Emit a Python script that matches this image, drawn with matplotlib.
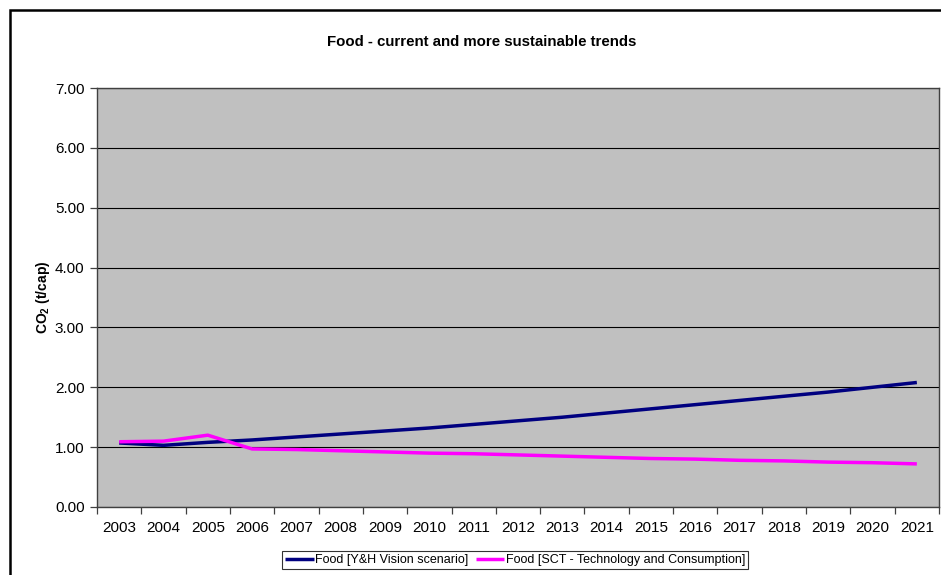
import matplotlib.pyplot as plt
from matplotlib.patches import Rectangle

plt.rcParams['font.family'] = ['Liberation Sans', 'DejaVu Sans']
plt.rcParams['mathtext.fontset'] = 'custom'
plt.rcParams['mathtext.rm'] = 'Liberation Sans'
plt.rcParams['mathtext.bf'] = 'Liberation Sans:bold'

years = [str(y) for y in range(2003, 2022)]
vision = [1.07, 1.03, 1.08, 1.12, 1.17, 1.22, 1.27, 1.32, 1.38, 1.44,
          1.50, 1.57, 1.64, 1.71, 1.78, 1.85, 1.92, 2.00, 2.08]
sct = [1.09, 1.10, 1.20, 0.97, 0.96, 0.94, 0.92, 0.90, 0.89, 0.87,
       0.85, 0.83, 0.81, 0.80, 0.78, 0.77, 0.75, 0.74, 0.72]

fig = plt.figure(figsize=(9.41, 5.75), dpi=100)
ax = fig.add_axes([97 / 941, 1 - 507 / 575, 842 / 941, 419 / 575])
ax.set_facecolor('#C0C0C0')

x = range(len(years))
l1, = ax.plot(x, vision, color='#000080', lw=2.5, solid_capstyle='butt',
              label='Food [Y&H Vision scenario]', zorder=3)
l2, = ax.plot(x, sct, color='#FF00FF', lw=2.5, solid_capstyle='butt',
              label='Food [SCT - Technology and Consumption]', zorder=3)

ax.set_xlim(-0.5, len(years) - 0.5)
ax.set_ylim(0, 7)
ax.set_yticks(range(8))
ax.set_yticklabels(['%.2f' % v for v in range(8)])
ax.yaxis.grid(True, color='black', lw=0.8)
ax.set_axisbelow(True)

# category labels centred, tick marks on the category boundaries
ax.set_xticks(list(x))
ax.set_xticklabels(years)
ax.set_xticks([i - 0.5 for i in range(len(years) + 1)], minor=True)
ax.tick_params(axis='x', which='major', length=0, pad=10, labelsize=11)
ax.tick_params(axis='x', which='minor', length=5, width=0.9, color='#404040')
ax.tick_params(axis='y', length=5, width=0.9, color='#404040', pad=4,
               labelsize=11)

for s in ax.spines.values():
    s.set_color('#404040')
    s.set_linewidth(1.0)

ax.set_ylabel(r'CO$_\mathbf{2}$ (t/cap)', fontsize=10, fontweight='bold',
              labelpad=2)

fig.text(482 / 941, 1 - 42 / 575, 'Food - current and more sustainable trends',
         ha='center', va='center', fontsize=10.8, fontweight='bold')

leg = fig.legend(handles=[l1, l2], loc='center', ncol=2,
                 bbox_to_anchor=(515 / 941, 1 - 560 / 575), fontsize=9,
                 frameon=True, fancybox=False, handlelength=2.3,
                 handletextpad=0.1, columnspacing=0.6, borderpad=0.25,
                 borderaxespad=0)
leg.get_frame().set_edgecolor('black')
leg.get_frame().set_linewidth(0.8)

# outer chart frame
fig.add_artist(Rectangle((10 / 941, -0.1), 1.2, 1.1 - 10 / 575,
                         transform=fig.transFigure, fill=False,
                         edgecolor='black', lw=1.8, clip_on=False))

fig.savefig('out.png', dpi=100)
